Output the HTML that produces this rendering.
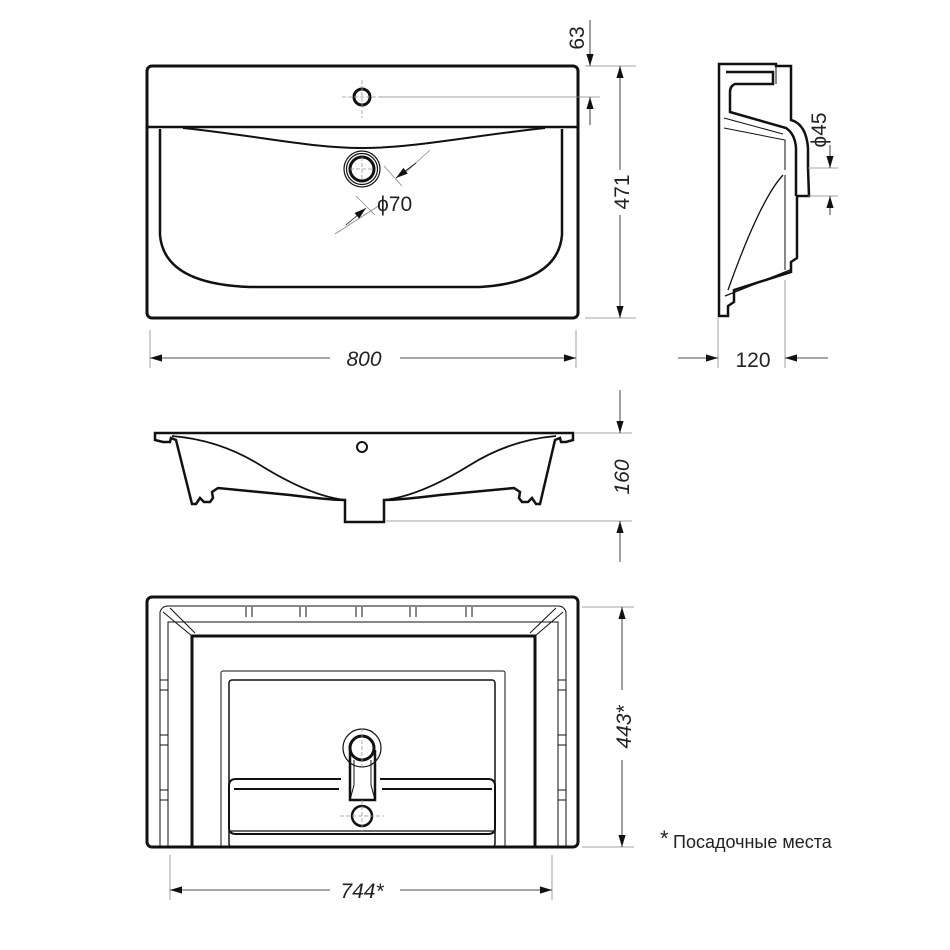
<!DOCTYPE html>
<html><head><meta charset="utf-8"><style>
html,body{margin:0;padding:0;background:#fff}
svg{display:block}
text{font-family:"Liberation Sans",sans-serif;fill:#222}
</style></head><body>
<svg width="950" height="950" viewBox="0 0 950 950" xmlns="http://www.w3.org/2000/svg">
<defs>
<marker id="a" viewBox="0 0 10 10" refX="10" refY="5" markerWidth="14" markerHeight="12" orient="auto-start-reverse" markerUnits="userSpaceOnUse"><path d="M0,2 L10,5 L0,8z" fill="#111"/></marker>
</defs>
<g fill="none" stroke="#111">
<!-- TOP VIEW -->
<rect x="147" y="66" width="431" height="252" rx="5" stroke-width="3"/>
<line x1="148" y1="127" x2="577" y2="127" stroke-width="2.5"/>
<path d="M160,129 L160,235 Q164,284 250,287 L480,287 Q558,282 562,235 L562,129" stroke-width="2.5"/>
<path d="M183,128 C260,136 310,148 362,148 C414,148 470,136 545,128" stroke-width="2"/>
<circle cx="362" cy="97" r="8" stroke-width="3"/>
<circle cx="362" cy="169" r="18" stroke-width="1.2"/>
<circle cx="362" cy="169" r="15.5" stroke-width="1.2"/>
<circle cx="362" cy="169" r="12" stroke-width="3"/>
<g stroke="#999" stroke-width="0.8" stroke-dasharray="4,2">
<line x1="342" y1="97" x2="382" y2="97"/><line x1="362" y1="80" x2="362" y2="118"/>
<line x1="350" y1="169" x2="374" y2="169"/><line x1="362" y1="157" x2="362" y2="181"/>
</g>
<g stroke="#888" stroke-width="0.8">
<line x1="380" y1="97" x2="600" y2="97"/>
<line x1="585" y1="66" x2="636" y2="66"/>
<line x1="585" y1="318" x2="636" y2="318"/>
<line x1="335" y1="234" x2="380" y2="205"/>
<line x1="405" y1="173" x2="430" y2="150"/>
<line x1="384" y1="166" x2="402" y2="186"/>
<line x1="356" y1="196" x2="375" y2="215"/>
<line x1="150" y1="330" x2="150" y2="368"/>
<line x1="576" y1="330" x2="576" y2="368"/>
</g>
<line x1="416" y1="163" x2="396" y2="178" stroke-width="0.8" marker-end="url(#a)"/>
<line x1="346" y1="225" x2="366" y2="208" stroke-width="0.8" marker-end="url(#a)"/>
<line x1="590" y1="20" x2="590" y2="66" stroke-width="0.8" marker-end="url(#a)"/>
<line x1="590" y1="125" x2="590" y2="97" stroke-width="0.8" marker-end="url(#a)"/>
<line x1="620" y1="170" x2="620" y2="66" stroke-width="0.8" marker-end="url(#a)"/>
<line x1="620" y1="215" x2="620" y2="318" stroke-width="0.8" marker-end="url(#a)"/>
<line x1="330" y1="358" x2="150" y2="358" stroke-width="0.8" marker-end="url(#a)"/>
<line x1="400" y1="358" x2="576" y2="358" stroke-width="0.8" marker-end="url(#a)"/>

<!-- SIDE VIEW -->
<path d="M719,64 L776,64 L776,66 L791,66 L791,120 Q806,124 808,148 L808,168 L809,196 L797,196 L797,258 L791,262 L791,272 L734,290 L734,302 L728,306 L728,316 L719,316 Z" stroke-width="2.5"/>
<path d="M726,72 L773,72 L773,84 L735,84 Q730,86 730,92 L730,112 L786,128 Q795,134 796,148 L796,196" stroke-width="2.5"/>
<path d="M724,128 L785,140 L785,170 M724,118 L783,134" stroke-width="1"/>
<path d="M725,296 L790,270 M728,290 Q760,200 783,175" stroke-width="1.3"/>
<line x1="776" y1="66" x2="776" y2="84" stroke-width="1"/>
<line x1="785" y1="175" x2="785" y2="270" stroke-width="1"/>
<g stroke="#888" stroke-width="0.8">
<line x1="718" y1="318" x2="718" y2="368"/>
<line x1="785" y1="280" x2="785" y2="368"/>
<line x1="808" y1="168" x2="838" y2="168"/>
<line x1="808" y1="196" x2="838" y2="196"/>
</g>
<line x1="678" y1="358" x2="718" y2="358" stroke-width="0.8" marker-end="url(#a)"/>
<line x1="828" y1="358" x2="785" y2="358" stroke-width="0.8" marker-end="url(#a)"/>
<line x1="830" y1="145" x2="830" y2="168" stroke-width="0.8" marker-end="url(#a)"/>
<line x1="830" y1="215" x2="830" y2="196" stroke-width="0.8" marker-end="url(#a)"/>

<!-- FRONT VIEW -->
<path d="M155,433 L573,433 L573,440 L566,442 L561,442 L560,438 L555,440 L540,504 L536,504 L532,498 L528,502 L522,502 L519,498 L520,492 L514,488 L440,495 Q400,500 384,500 L384,522 L345,522 L345,500 Q330,500 290,495 L218,488 L212,492 L213,498 L210,502 L204,502 L200,498 L196,504 L192,504 L176,440 L171,438 L170,442 L163,442 L155,440 Z" stroke-width="2.5"/>
<path d="M172,436 Q220,440 260,465 Q310,496 345,500 M556,436 Q510,440 470,465 Q420,496 384,500" stroke-width="1.8"/>
<circle cx="362" cy="447" r="5" stroke-width="2"/>
<g stroke="#888" stroke-width="0.8">
<line x1="575" y1="433" x2="632" y2="433"/>
<line x1="386" y1="521" x2="632" y2="521"/>
</g>
<line x1="620" y1="390" x2="620" y2="433" stroke-width="0.8" marker-end="url(#a)"/>
<line x1="620" y1="562" x2="620" y2="521" stroke-width="0.8" marker-end="url(#a)"/>

<!-- BOTTOM VIEW -->
<rect x="147" y="597" width="431" height="250" rx="5" stroke-width="3"/>
<path d="M192,847 L192,636 L535,636 L535,847" stroke-width="3"/>
<path d="M160,847 L160,612 Q162,606 168,606 L558,606 Q564,606 566,612 L566,847" stroke-width="1"/>
<path d="M168,847 L168,622 L558,622 L558,847" stroke-width="1"/>
<path d="M163,612 L192,636 M563,612 L535,636 M170,608 L195,633 M556,608 L530,633" stroke-width="1"/>
<path d="M246,607 L246,617 M252,607 L252,617 M300,607 L300,617 M306,607 L306,617 M356,607 L356,617 M362,607 L362,617 M410,607 L410,617 M416,607 L416,617 M466,607 L466,617 M472,607 L472,617" stroke-width="1"/>
<path d="M160,680 L168,680 M160,690 L168,690 M160,735 L168,735 M160,745 L168,745 M160,790 L168,790 M160,800 L168,800 M558,680 L566,680 M558,690 L566,690 M558,735 L566,735 M558,745 L566,745 M558,790 L566,790 M558,800 L566,800" stroke-width="1"/>
<rect x="221" y="671" width="284" height="176" rx="2" stroke-width="1"/>
<rect x="229" y="680" width="266" height="167" rx="3" stroke-width="1.5"/>
<path d="M341,779 L236,779 Q229,779 229,786 L229,828 Q229,834 236,834 L488,834 Q495,834 495,828 L495,786 Q495,779 488,779 L380,779" stroke-width="2"/>
<path d="M339,789 L234,789 M382,789 L492,789" stroke-width="2"/>
<path d="M231,831 L493,831" stroke-width="1.2"/>
<circle cx="362" cy="748" r="19" stroke-width="1.2"/>
<circle cx="362" cy="748" r="12" stroke-width="3"/>
<path d="M350,750 L350,800 L375,800 L375,750" stroke-width="2.5"/>
<path d="M354,760 L354,785 L350,800 M371,760 L371,785 L375,800" stroke-width="1"/>
<circle cx="362" cy="816" r="10" stroke-width="2.5"/>
<g stroke="#999" stroke-width="0.8" stroke-dasharray="4,2">
<line x1="340" y1="816" x2="384" y2="816"/><line x1="362" y1="800" x2="362" y2="832"/>
<line x1="362" y1="728" x2="362" y2="770"/>
</g>
<g stroke="#888" stroke-width="0.8">
<line x1="582" y1="607" x2="634" y2="607"/>
<line x1="582" y1="847" x2="634" y2="847"/>
<line x1="170" y1="855" x2="170" y2="900"/>
<line x1="552" y1="855" x2="552" y2="900"/>
</g>
<line x1="622" y1="690" x2="622" y2="607" stroke-width="0.8" marker-end="url(#a)"/>
<line x1="622" y1="760" x2="622" y2="847" stroke-width="0.8" marker-end="url(#a)"/>
<line x1="330" y1="890" x2="170" y2="890" stroke-width="0.8" marker-end="url(#a)"/>
<line x1="400" y1="890" x2="552" y2="890" stroke-width="0.8" marker-end="url(#a)"/>
</g>

<g font-size="21">
<text x="364" y="366" text-anchor="middle" font-style="italic">800</text>
<text x="377" y="211">ϕ70</text>
<text transform="translate(629,192) rotate(-90)" text-anchor="middle">471</text>
<text transform="translate(584,38) rotate(-90)" text-anchor="middle">63</text>
<text x="753" y="367" text-anchor="middle">120</text>
<text transform="translate(826,130) rotate(-90)" text-anchor="middle">ϕ45</text>
<text transform="translate(629,477) rotate(-90)" text-anchor="middle" font-style="italic">160</text>
<text transform="translate(631,727) rotate(-90)" text-anchor="middle" font-style="italic">443*</text>
<text x="362" y="898" text-anchor="middle" font-style="italic">744*</text>
</g>
<text x="660" y="846" font-size="22">*</text>
<text x="673" y="848" font-size="18">Посадочные места</text>
</svg>
</body></html>
